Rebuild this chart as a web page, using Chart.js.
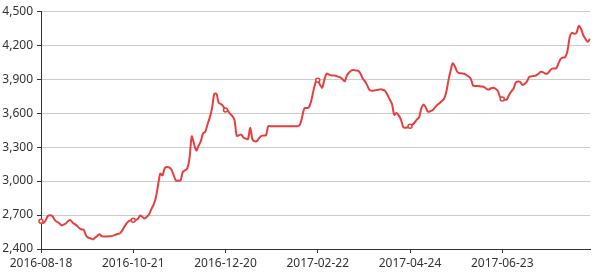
<!DOCTYPE html>
<html>
<head>
<meta charset="utf-8">
<script src="https://cdn.jsdelivr.net/npm/chart.js@4/dist/chart.umd.min.js"></script>
<style>
  body { margin: 0; background: #fff; }
  #wrap { width: 596px; height: 273px; }
</style>
</head>
<body>
<div id="wrap"><canvas id="myChart" width="596" height="273"></canvas></div>
<script>
// dates shown under the x axis (plus the last day of the series)
const tickDates = ['2016-08-18', '2016-10-21', '2016-12-20', '2017-02-22', '2017-04-24', '2017-06-23', '2017-08-17'];
const labelStep = 41;

const yTicks = [2400, 2700, 3000, 3300, 3600, 3900, 4200, 4500];

const values = [
  2645, 2630, 2650, 2690, 2697, 2692, 2660, 2640, 2630, 2610,
  2615, 2625, 2645, 2655, 2635, 2620, 2605, 2585, 2572, 2570,
  2520, 2500, 2495, 2485, 2500, 2515, 2530, 2514, 2510, 2510,
  2512, 2512, 2518, 2525, 2533, 2537, 2560, 2595, 2625, 2645,
  2654,
  2654, 2655, 2665, 2695, 2685, 2670, 2685, 2705, 2750, 2790,
  2850, 2960, 3065, 3050, 3115, 3125, 3120, 3100, 3050, 3004,
  3004, 3004, 3080, 3095, 3110, 3200, 3395, 3330, 3270, 3310,
  3350, 3420, 3435, 3500, 3560, 3640, 3770, 3770, 3690, 3680,
  3660,
  3628, 3622, 3595, 3575, 3540, 3400, 3405, 3410, 3385, 3375,
  3370, 3470, 3368, 3350, 3355, 3380, 3398, 3402, 3405, 3485,
  3485, 3485, 3485, 3485, 3485, 3485, 3485, 3485, 3485, 3485,
  3485, 3485, 3485, 3495, 3560, 3640, 3645, 3650, 3700, 3790,
  3870,
  3890, 3850, 3825, 3900, 3950, 3940, 3935, 3932, 3930, 3922,
  3915, 3900, 3882, 3935, 3960, 3978, 3980, 3976, 3973, 3950,
  3905, 3880, 3845, 3805, 3797, 3800, 3803, 3806, 3810, 3806,
  3795, 3760, 3720, 3680, 3585, 3600, 3580, 3540, 3478, 3470,
  3475,
  3485, 3498, 3515, 3543, 3560, 3640, 3675, 3650, 3612, 3616,
  3625, 3648, 3670, 3686, 3705, 3722, 3775, 3880, 3970, 4040,
  4010, 3965, 3952, 3951, 3948, 3937, 3925, 3905, 3845, 3840,
  3840, 3838, 3835, 3830, 3815, 3808, 3820, 3824, 3815, 3797,
  3745,
  3725, 3718, 3720, 3760, 3790, 3815, 3870, 3880, 3875, 3848,
  3860, 3880, 3920, 3925, 3928, 3932, 3946, 3964, 3962, 3950,
  3948, 3970, 3992, 3995, 3995, 4040, 4080, 4091, 4093, 4150,
  4272, 4310, 4300, 4310, 4370, 4345, 4290, 4255, 4230, 4255
];

// category labels: spread the days between the shown dates
const DAY = 86400000;
const categories = [];
for (let s = 0; categories.length < values.length; s++) {
  const a = Date.parse(tickDates[s]);
  const b = Date.parse(tickDates[s + 1]);
  const n = Math.min(labelStep, values.length - 1 - s * labelStep);
  const last = s * labelStep + n === values.length - 1;
  for (let j = 0; j < n + (last ? 1 : 0); j++) {
    const d = new Date(a + Math.round(j * (b - a) / n / DAY) * DAY);
    categories.push(d.toISOString().slice(0, 10));
  }
}

const lineColor = '#e6403d';
const font = { family: 'Noto Sans', size: 12 };

var ctx = document.getElementById('myChart').getContext('2d');
var myChart = new Chart(ctx, {
  type: 'line',
  data: {
    labels: categories,
    datasets: [{
      data: values,
      borderColor: lineColor,
      borderWidth: 2,
      tension: 0.3,
      pointRadius: c => (c.dataIndex % labelStep === 0 ? 2 : 0),
      pointHoverRadius: 3,
      pointBackgroundColor: '#fff',
      pointBorderColor: lineColor,
      pointBorderWidth: 1.5,
      fill: false
    }]
  },
  options: {
    responsive: false,
    animation: false,
    layout: { padding: { top: 9, right: 6, left: 0, bottom: 0 } },
    plugins: {
      legend: { display: false },
      tooltip: { intersect: false, mode: 'index' }
    },
    scales: {
      x: {
        type: 'category',
        border: { color: '#333', width: 1 },
        grid: { drawOnChartArea: false, drawTicks: true, tickLength: 4, tickColor: '#333' },
        ticks: {
          autoSkip: false,
          maxRotation: 0,
          padding: 3,
          color: '#333',
          font: font,
          callback: function (v, i) {
            return i % labelStep === 0 ? this.getLabelForValue(v) : null;
          }
        },
        afterFit: s => { s.height = 24; }
      },
      y: {
        min: yTicks[0],
        max: yTicks[yTicks.length - 1],
        border: { color: '#333', width: 1 },
        grid: { color: '#ccc', tickLength: 4, tickColor: '#333' },
        afterBuildTicks: s => { s.ticks = yTicks.map(v => ({ value: v })); },
        ticks: {
          padding: 4,
          color: '#333',
          font: font,
          callback: v => v.toLocaleString('en-US')
        },
        afterFit: s => { s.width = 41; }
      }
    }
  }
});
</script>
</body>
</html>
